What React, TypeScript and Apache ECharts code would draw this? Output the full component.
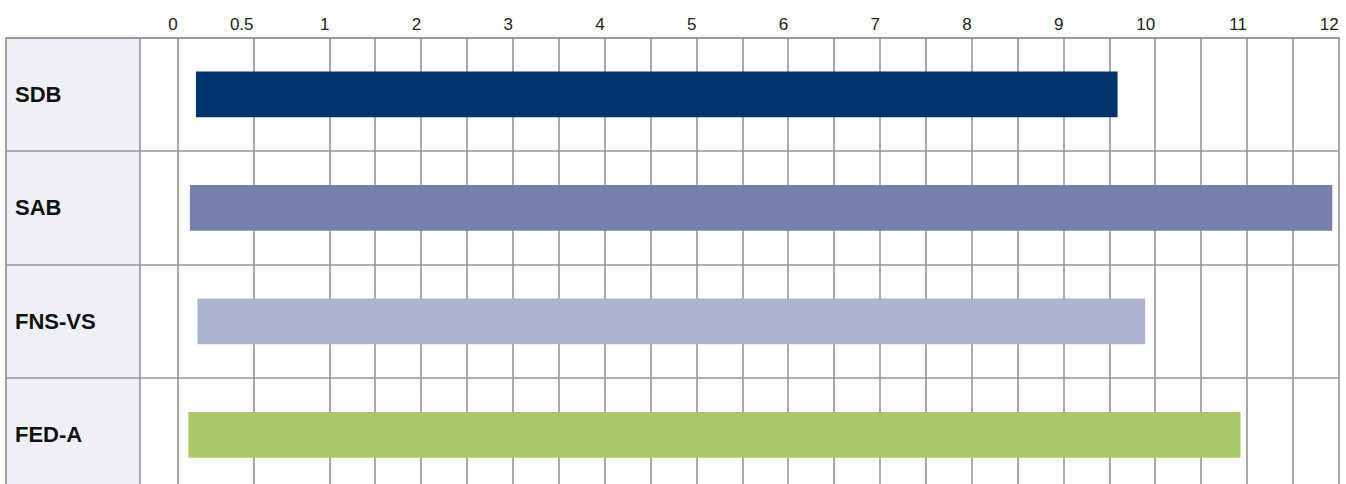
import React, { useEffect, useRef } from "react";
import * as echarts from "echarts";

// ---- data ----
const CATEGORIES = ["SDB", "SAB", "FNS-VS", "FED-A"];
const STARTS = [0.12, 0.08, 0.13, 0.07];
const ENDS = [9.59, 11.93, 9.89, 10.93];
const COLORS = ["#00336a", "#7681ab", "#aeb3cf", "#aac96b"];
const TICK_LABELS = [0, 0.5, 1, 2, 3, 4, 5, 6, 7, 8, 9, 10, 11, 12];
const GRID_VALUES = [0, 0.5, 1, 1.5, 2, 2.5, 3, 3.5, 4, 4.5, 5, 5.5, 6, 6.5, 7, 7.5, 8, 8.5, 9, 9.5, 10, 10.5, 11, 11.5, 12];

// ---- scale: first unit (0..1) is drawn wider than the others ----
const FIRST_UNIT = 1.6525;
const toAxis = (v: number) => (v <= 1 ? v * FIRST_UNIT : FIRST_UNIT + (v - 1));
const fromAxis = (u: number) => (u <= FIRST_UNIT ? u / FIRST_UNIT : u - FIRST_UNIT + 1);
const AXIS_MIN = -1.8716; // left border of the table
const LABEL_EDGE = -0.411; // right border of the label column
const AXIS_MAX = toAxis(12);

const LINE = "#959595";

export default function App() {
  const ref = useRef<HTMLDivElement>(null);
  useEffect(() => {
    if (!ref.current) return;
    const chart = echarts.init(ref.current, undefined, { renderer: "svg" });
    chart.setOption({
      animation: false,
      grid: { left: 6, right: 7.3, top: 37.7, bottom: 8.3, containLabel: false },
      graphic: [
        {
          type: "rect",
          z: -10,
          shape: { x: 6, y: 37.7, width: 134, height: 460 },
          style: { fill: "#eff0f6" },
          silent: true,
        },
      ],
      xAxis: {
        type: "value",
        position: "top",
        min: AXIS_MIN,
        max: AXIS_MAX,
        axisLine: { show: true, lineStyle: { color: LINE, width: 1.6 } },
        axisTick: {
          show: false,
          customValues: [AXIS_MIN, LABEL_EDGE, ...GRID_VALUES.map(toAxis)],
        },
        splitLine: { show: true, lineStyle: { color: LINE, width: 1.6 } },
        axisLabel: {
          customValues: TICK_LABELS.map(toAxis),
          formatter: (u: number) => String(Math.round(fromAxis(u) * 2) / 2),
          align: "right",
          margin: 5,
          fontFamily: "Liberation Sans, Arial, sans-serif",
          fontSize: 17,
          color: "#222",
        },
      },
      yAxis: {
        type: "category",
        inverse: true,
        data: CATEGORIES,
        axisLine: { show: false },
        axisTick: { show: false },
        splitLine: { show: true, lineStyle: { color: LINE, width: 1.6 } },
        axisLabel: {
          inside: true,
          margin: 9,
          align: "left",
          fontFamily: "Liberation Sans, Arial, sans-serif",
          fontWeight: "bold",
          fontSize: 22,
          color: "#111",
        },
      },
      series: [
        {
          type: "custom",
          z: 5,
          encode: { x: [1, 2], y: 0 },
          data: CATEGORIES.map((c, i) => [i, toAxis(STARTS[i]), toAxis(ENDS[i])]),
          renderItem: (params: any, api: any) => {
            const cat = api.value(0);
            const p0 = api.coord([api.value(1), cat]);
            const p1 = api.coord([api.value(2), cat]);
            const h = api.size([0, 1])[1] * 0.403;
            return {
              type: "rect",
              shape: { x: p0[0], y: p0[1] - h / 2, width: p1[0] - p0[0], height: h },
              style: { fill: COLORS[params.dataIndex] },
            };
          },
        },
      ],
    });
    return () => chart.dispose();
  }, []);
  return (
    <div
      ref={ref}
      style={{ position: "absolute", left: 0, top: 0, width: 1346, height: 500 }}
    />
  );
}
